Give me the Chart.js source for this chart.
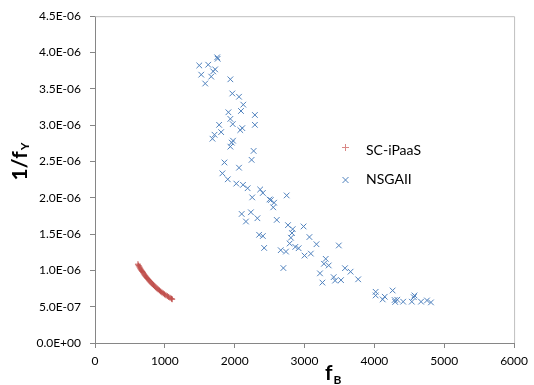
<!DOCTYPE html>
<html>
<head>
<meta charset="utf-8">
<script src="https://cdn.jsdelivr.net/npm/chart.js@4.4.1/dist/chart.umd.min.js"></script>
<style>
  body { margin: 0; background: #fff; }
</style>
</head>
<body>
<canvas id="chart" width="534" height="385"></canvas>
<script>
// 1/fY values are kept in units of 1E-06
const scX = [615, 625, 635, 645, 655, 666, 677, 688, 700, 712, 724, 737, 750, 764, 778, 792, 807,
    822, 838, 854, 870, 887, 904, 922, 940, 958, 977, 996, 1015, 1035, 1055, 1075, 1095, 1105];
const scY = [1.085, 1.065, 1.048, 1.032, 1.016, 1.000, 0.984, 0.968, 0.951, 0.935, 0.920, 0.904,
    0.889, 0.873, 0.857, 0.842, 0.827, 0.812, 0.797, 0.782, 0.767, 0.752, 0.738, 0.724, 0.710,
    0.696, 0.683, 0.670, 0.658, 0.646, 0.634, 0.622, 0.610, 0.603];

const nsgaX = [1749, 1756, 1493, 1621, 1720, 1692, 1521, 1664, 1938, 1578, 1966, 2062, 2123, 1910,
    2090, 2289, 1938, 1972, 2289, 1777, 1806, 2109, 2080, 1711, 1682, 1976, 1958, 1938, 2271, 2242,
    1853, 2062, 1824, 1901, 2023, 2119, 2185, 2365, 2403, 2744, 2251, 2498, 2517, 2564, 2552, 2100,
    2232, 2325, 2161, 2602, 2763, 2830, 2986, 2820, 2350, 2403, 2805, 2787, 2422, 2659, 2734, 2868,
    2915, 3070, 3171, 3491, 3000, 3090, 3303, 3278, 3346, 3579, 3659, 3221, 3417, 3437, 3522, 3768,
    3256, 2697, 4018, 4018, 4148, 4119, 4261, 4290, 4298, 4327, 4412, 4536, 4564, 4574, 4668, 4753,
    4810];
const nsgaY = [3.934, 3.914, 3.822, 3.832, 3.768, 3.740, 3.695, 3.668, 3.631, 3.573, 3.436, 3.391,
    3.282, 3.177, 3.195, 3.140, 3.086, 3.014, 3.004, 3.004, 2.904, 2.959, 2.932, 2.868, 2.813, 2.786,
    2.759, 2.704, 2.645, 2.522, 2.486, 2.414, 2.336, 2.254, 2.195, 2.178, 2.131, 2.114, 2.066, 2.032,
    2.005, 1.977, 1.968, 1.932, 1.868, 1.777, 1.800, 1.718, 1.673, 1.695, 1.623, 1.568, 1.605, 1.514,
    1.490, 1.473, 1.450, 1.370, 1.309, 1.278, 1.259, 1.323, 1.305, 1.459, 1.360, 1.343, 1.204, 1.231,
    1.159, 1.091, 1.068, 1.030, 0.982, 0.959, 0.907, 0.859, 0.866, 0.877, 0.832, 1.032, 0.705, 0.655,
    0.637, 0.600, 0.723, 0.592, 0.565, 0.596, 0.569, 0.569, 0.631, 0.655, 0.569, 0.586, 0.559];

const xTicks = [0, 1000, 2000, 3000, 4000, 5000, 6000];
const yTicks = [0, 0.5, 1, 1.5, 2, 2.5, 3, 3.5, 4, 4.5];

const seriesNames = ["SC-iPaaS", "NSGAII"];
const red = "#C0504D";
const blue = "#4F81BD";
const axisGray = "#868686";

function toPoints(xs, ys) {
    return xs.map((x, i) => ({ x: x, y: ys[i] }));
}

// 4.5 -> "4.5E-06"
function sci(v) {
    const parts = (v * 1e-6).toExponential(1).split("e");
    const n = parseInt(parts[1], 10);
    return parts[0] + "E" + (n < 0 ? "-" : "+") + String(Math.abs(n)).padStart(2, "0");
}

Chart.defaults.font.family = "Lato, 'Open Sans', sans-serif";
Chart.defaults.color = "#000";

// frame, axis titles with subscripts, and the legend inside the plot
const decorations = {
    id: "decorations",
    afterDraw(chart) {
        const c = chart.ctx;
        const a = chart.chartArea;
        c.save();
        c.strokeStyle = "#BFBFBF";
        c.lineWidth = 1;
        c.beginPath();
        c.moveTo(a.left, a.top + 0.5);
        c.lineTo(a.right + 0.5, a.top + 0.5);
        c.lineTo(a.right + 0.5, a.bottom);
        c.stroke();

        c.fillStyle = "#000";
        c.textBaseline = "alphabetic";

        // y title: 1/fY
        c.save();
        c.translate(27, 162);
        c.rotate(-Math.PI / 2);
        c.font = "bold 21px Lato, sans-serif";
        const w1 = c.measureText("1/f").width;
        c.font = "bold 12px Lato, sans-serif";
        const w2 = c.measureText("Y").width;
        const start = -(w1 + w2) / 2;
        c.font = "bold 21px Lato, sans-serif";
        c.fillText("1/f", start, 0);
        c.font = "bold 12px Lato, sans-serif";
        c.fillText("Y", start + w1 + 1, 2);
        c.restore();

        // x title: fB
        c.font = "bold 21px Lato, sans-serif";
        c.fillText("f", 325, 380);
        const wf = c.measureText("f").width;
        c.font = "bold 12px Lato, sans-serif";
        c.fillText("B", 325 + wf + 1, 384);

        // legend
        c.lineWidth = 1;
        c.strokeStyle = "#D98886";
        c.beginPath();
        c.moveTo(342, 147.5); c.lineTo(349, 147.5);
        c.moveTo(345.5, 144); c.lineTo(345.5, 151);
        c.stroke();
        c.strokeStyle = blue;
        c.beginPath();
        c.moveTo(342.5, 177); c.lineTo(348.5, 183);
        c.moveTo(348.5, 177); c.lineTo(342.5, 183);
        c.stroke();
        c.font = "14px Lato, sans-serif";
        c.textBaseline = "middle";
        c.fillText(seriesNames[0], 366, 150.5);
        c.fillText(seriesNames[1], 366, 179);
        c.restore();
    }
};

new Chart(document.getElementById("chart"), {
    type: "scatter",
    data: {
        datasets: [
            {
                label: seriesNames[0],
                data: toPoints(scX, scY),
                pointStyle: "cross",
                pointRadius: 3,
                pointBorderWidth: 1,
                borderColor: red,
                backgroundColor: red
            },
            {
                label: seriesNames[1],
                data: toPoints(nsgaX, nsgaY),
                pointStyle: "crossRot",
                pointRadius: 4,
                pointBorderWidth: 1,
                borderColor: blue,
                backgroundColor: blue
            }
        ]
    },
    options: {
        responsive: false,
        animation: false,
        layout: { padding: { top: 13, right: 17, left: 0, bottom: 0 } },
        plugins: {
            legend: { display: false },
            tooltip: { enabled: false }
        },
        scales: {
            x: {
                type: "linear",
                min: 0,
                max: 6000,
                afterBuildTicks: scale => { scale.ticks = xTicks.map(v => ({ value: v })); },
                afterFit: scale => { scale.height = 42; },
                grid: { drawOnChartArea: false, drawTicks: true, tickLength: 5, color: axisGray },
                border: { color: axisGray },
                ticks: { padding: 6, font: { size: 12 }, maxRotation: 0, callback: v => String(v) }
            },
            y: {
                type: "linear",
                min: 0,
                max: 4.5,
                afterBuildTicks: scale => { scale.ticks = yTicks.map(v => ({ value: v })); },
                afterFit: scale => { scale.width = 95; },
                grid: { drawOnChartArea: false, drawTicks: true, tickLength: 5, color: axisGray },
                border: { color: axisGray },
                ticks: { padding: 9, font: { size: 12 }, callback: v => sci(v) }
            }
        }
    },
    plugins: [decorations]
});
</script>
</body>
</html>
